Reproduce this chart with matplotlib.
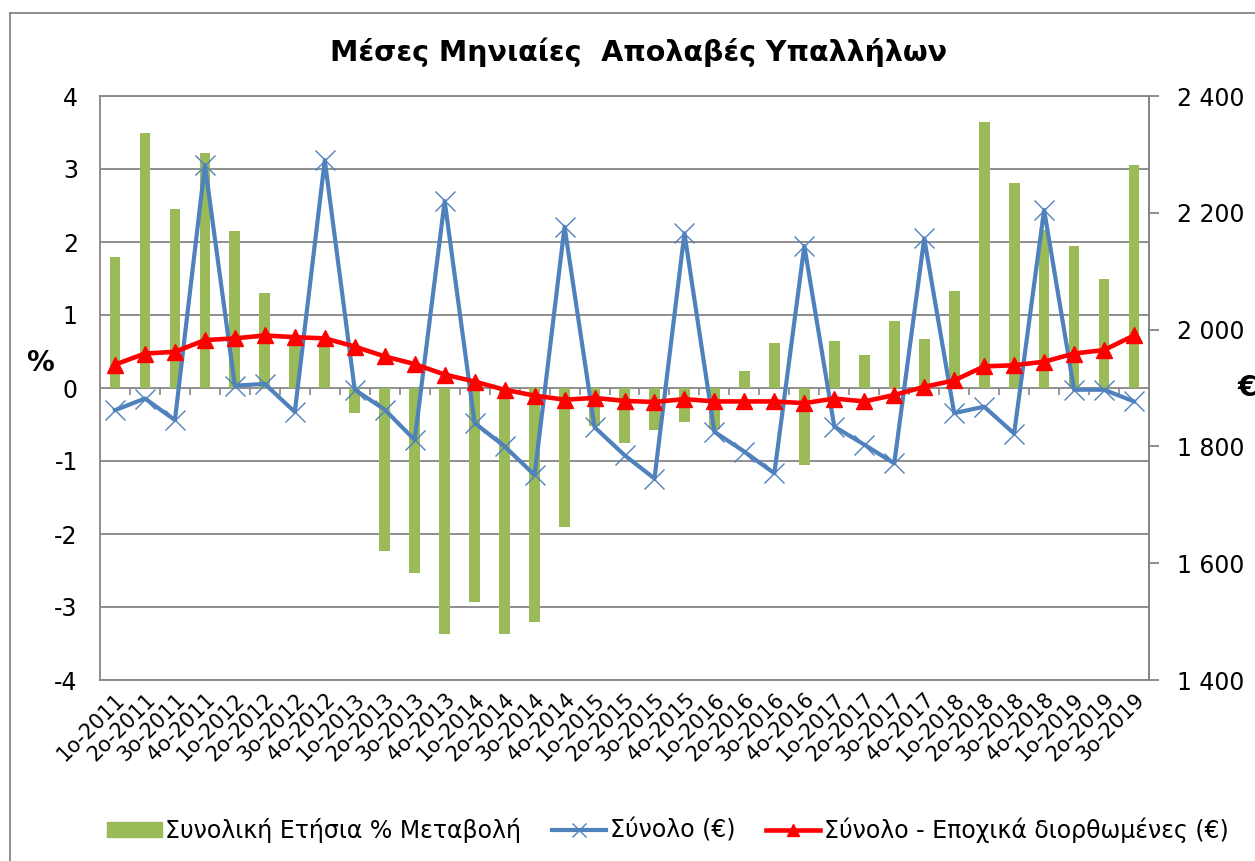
import numpy as np
import matplotlib
matplotlib.use('Agg')
import matplotlib.pyplot as plt
from matplotlib.lines import Line2D
from matplotlib.ticker import FuncFormatter

plt.rcParams['font.family'] = ['DejaVu Sans']
plt.rcParams['axes.unicode_minus'] = False

# τρίμηνα 1ο-2011 ... 3ο-2019
quarters = ['1ο', '2ο', '3ο', '4ο']
years = ['2011', '2012', '2013', '2014', '2015', '2016', '2017', '2018', '2019']
labels = [q + '-' + y for y in years for q in quarters][:35]

# συνολική ετήσια % μεταβολή (αριστερός άξονας)
pct_change = [1.79, 3.50, 2.45, 3.22, 2.15, 1.30, 0.65, 0.60,
              -0.34, -2.23, -2.54, -3.37, -2.93, -3.37, -3.21, -1.91,
              -0.52, -0.76, -0.57, -0.46, -0.56, 0.23, 0.61, -1.06,
              0.64, 0.45, 0.92, 0.67, 1.33, 3.64, 2.81, 2.16,
              1.94, 1.49, 3.06]

# σύνολο σε ευρώ (δεξιός άξονας)
total_eur = [1862, 1882, 1845, 2282, 1904, 1907, 1859, 2290,
             1897, 1863, 1811, 2220, 1840, 1800, 1751, 2176,
             1833, 1785, 1745, 2165, 1825, 1791, 1754, 2143,
             1834, 1803, 1771, 2156, 1857, 1868, 1822, 2205,
             1897, 1897, 1877]

# εποχικά διορθωμένες τιμές
seas_adj = [1940, 1959, 1962, 1982, 1985, 1990, 1987, 1985,
            1971, 1954, 1941, 1923, 1911, 1897, 1887, 1880,
            1883, 1878, 1876, 1881, 1877, 1877, 1877, 1874,
            1882, 1877, 1888, 1902, 1913, 1937, 1939, 1945,
            1959, 1965, 1990]

GREEN = '#9BBB59'
BLUE = '#4F81BD'
RED = '#FF0000'
GRAY = '#868686'

fig = plt.figure(figsize=(12.55, 8.61), dpi=100)
ax = fig.add_axes([100 / 1255, 1 - 680 / 861, 1049 / 1255, 584 / 861])
ax2 = ax.twinx()

x = np.arange(len(labels))

ax.bar(x, pct_change, width=0.36, color=GREEN, zorder=2)
ax.set_xlim(-0.5, len(labels) - 0.5)
ax.set_ylim(-4, 4)
ax.set_yticks(range(-4, 5))
ax.yaxis.grid(True, color=GRAY, lw=1.3)
ax.set_axisbelow(True)
ax.tick_params(axis='y', length=0, labelsize=17, pad=16)

# μικρές γραμμές στον άξονα του μηδενός
ax.vlines(np.arange(len(labels) + 1) - 0.5, -0.09, 0, color=GRAY, lw=1.2, zorder=1)

ax.set_xticks(x)
ax.set_xticklabels(labels, rotation=45, ha='right', rotation_mode='anchor', fontsize=15)
ax.tick_params(axis='x', length=0, pad=7)

for sp in ax.spines.values():
    sp.set_color(GRAY)
    sp.set_linewidth(1.3)

ax2.plot(x, total_eur, color=BLUE, lw=3, marker='x', ms=14, mew=1.0, zorder=3)
ax2.plot(x, seas_adj, color=RED, lw=3.3, marker='^', ms=11, zorder=4)
ax2.set_ylim(1400, 2400)
ax2.set_yticks(range(1400, 2401, 200))
ax2.yaxis.set_major_formatter(FuncFormatter(lambda v, p: '{:,}'.format(int(v)).replace(',', ' ')))
ax2.tick_params(axis='y', length=7, width=1.3, color=GRAY, labelsize=17, pad=13)
for sp in ax2.spines.values():
    sp.set_visible(False)
ax2.spines['right'].set_visible(True)
ax2.spines['right'].set_color(GRAY)
ax2.spines['right'].set_linewidth(1.3)

fig.text(639 / 1255, 1 - 52 / 861, 'Μέσες Μηνιαίες  Απολαβές Υπαλλήλων', ha='center', va='center',
         fontsize=20.5, fontweight='bold')
fig.text(40 / 1255, 1 - 363 / 861, '%', ha='center', va='center', fontsize=20, fontweight='bold')
fig.text(1238 / 1255, 1 - 388 / 861, '€', ha='left', va='center', fontsize=20, fontweight='bold')

handles = [
    plt.Rectangle((0, 0), 1, 1, color=GREEN),
    Line2D([], [], color=BLUE, lw=3, marker='x', ms=10, mew=1.0),
    Line2D([], [], color=RED, lw=3.3, marker='^', ms=9),
]
names = ['Συνολική Ετήσια % Μεταβολή', 'Σύνολο (€)', 'Σύνολο - Εποχικά διορθωμένες (€)']
fig.legend(handles, names, loc='center', bbox_to_anchor=(668 / 1255, 1 - 830 / 861), ncol=3,
           frameon=False, fontsize=17, handlelength=2.3, handleheight=0.55,
           handletextpad=0.15, columnspacing=1.3)

# περίγραμμα
fig.add_artist(Line2D([10 / 1255, 10 / 1255], [0, 1 - 13 / 861], color=GRAY, lw=1.3))
fig.add_artist(Line2D([10 / 1255, 1], [1 - 13 / 861, 1 - 13 / 861], color=GRAY, lw=1.3))

plt.savefig('out.png', dpi=100)
